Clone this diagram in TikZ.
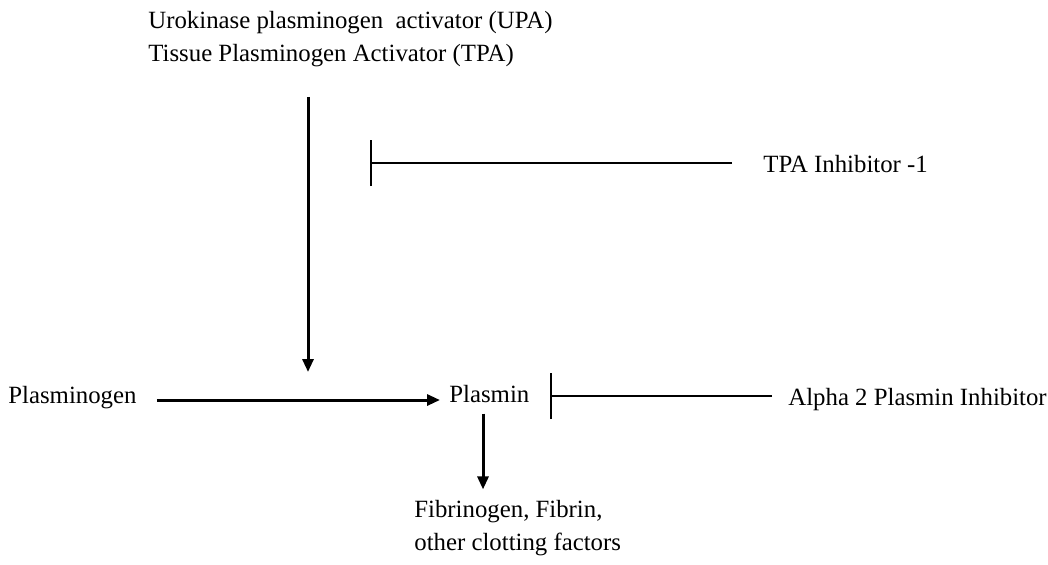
\documentclass[tikz,border=0pt]{standalone}
\usepackage{fontspec}
\setmainfont{Liberation Serif}
\usetikzlibrary{arrows.meta,positioning,calc}

\begin{document}
\begin{tikzpicture}[
 x=0.5pt,y=-0.5pt,
 every node/.style={font=\fontsize{12.4}{16.5}\selectfont,inner sep=0pt},
 label/.style={anchor=base west},
 act/.style={-{Triangle[length=6.5pt,width=5.5pt]},line width=1.5pt},
 inh/.style={-{Bar[width=23pt,line width=1pt]},line width=0.7pt}
]
\useasboundingbox (0,0) rectangle (1048,564);

\node[label] (upa) at (148,28) {Urokinase plasminogen\ \ activator (UPA)};
\node[label] (tpa) at (148,61) {Tissue Plasminogen Activator (TPA)};
\node[label] (tpainh) at (763,172) {TPA Inhibitor -1};
\node[label] (plg) at (8,403) {Plasminogen};
\node[label] (pl) at (449,402) {Plasmin};
\node[label] (a2pi) at (788,405) {Alpha 2 Plasmin Inhibitor};
\node[label] (fib) at (414,517) {Fibrinogen, Fibrin,};
\node[label] (fibb) at (414,550) {other clotting factors};

% free ends of the activator arrow and the two bars
\coordinate (tip) at (308,372);
\coordinate (tpabar) at (370,163);
\coordinate (plbar) at (550,396);
\coordinate (dx) at (483,0);

\draw[act,shorten <=15pt] (tpa.south -| tip) -- (tip);
\draw[act,shorten <=10pt,shorten >=4.5pt] (plg.east |- 0,400) -- (pl.west |- 0,400);
\draw[act,shorten <=5.5pt,shorten >=5pt] (pl.south -| dx) -- (fib.north -| dx);
\draw[inh] (tpainh.west |- tpabar) ++(-31,0) -- (tpabar);
\draw[inh] (a2pi.west |- plbar) ++(-16,0) -- (plbar);
\end{tikzpicture}
\end{document}
